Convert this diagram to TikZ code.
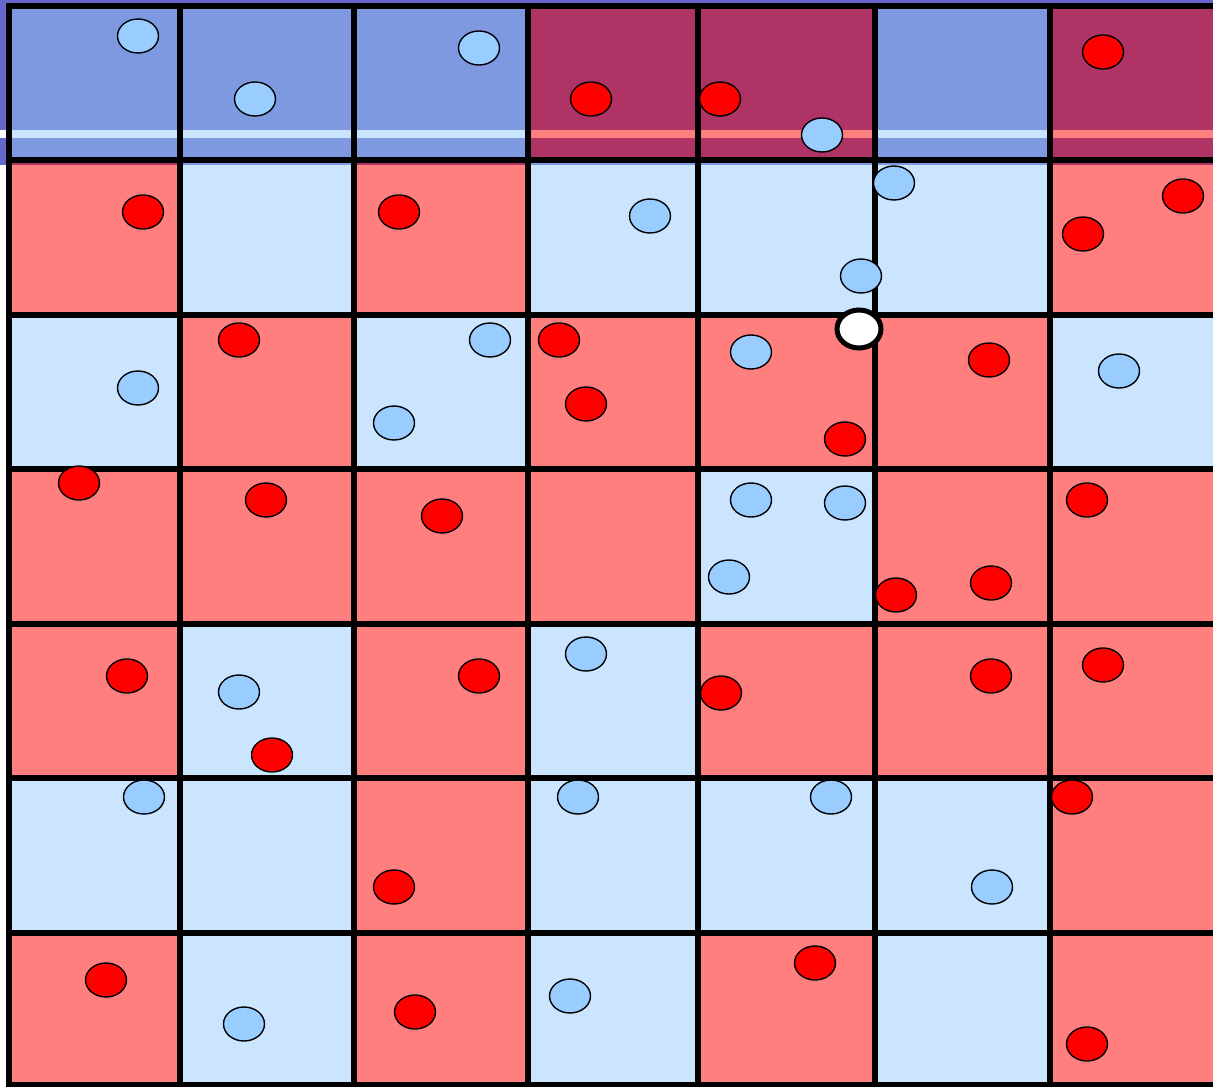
\documentclass[tikz,border=0pt]{standalone}
\usepackage{tikz}
\usetikzlibrary{shapes.geometric}
\definecolor{cellR}{HTML}{FF7F7F}
\definecolor{cellL}{HTML}{CCE5FF}
\definecolor{darkR}{HTML}{B03366}
\definecolor{darkL}{HTML}{7F99E1}
\definecolor{rim}{HTML}{6666CC}
\definecolor{dotblue}{HTML}{99CCFF}

\begin{document}
\begin{tikzpicture}[x=1pt,y=-1pt,
    gridline/.style={line width=5.6pt,line cap=rect},
    dot/.style={ellipse,draw,line width=1.4pt,minimum width=41pt,minimum height=34pt,inner sep=0pt},
    bluedot/.style={dot,fill=dotblue},
    reddot/.style={dot,fill=red},
    agent/.style={ellipse,draw,fill=white,line width=5pt,minimum width=44pt,minimum height=38pt,inner sep=0pt}]
\useasboundingbox (0,0) rectangle (1213,1087);
\clip (0,0) rectangle (1213,1087);
\def\colx{{9,180,354,528,698,875,1050,1224}}
\def\rowy{{6,160,315,469,624,778,933,1085}}
\fill[rim] (0,0) rectangle (1213,165);
\fill[white] (0,130) rectangle (9,138);
\foreach \r/\pat in {0/{L,L,L,R,R,L,R},1/{R,L,R,L,L,L,R},2/{L,R,L,R,R,R,L},
    3/{R,R,R,R,L,R,R},4/{R,L,R,L,R,R,R},5/{L,L,R,L,L,L,R},6/{R,L,R,L,R,L,R}} {
  \foreach \c [count=\i from 0] in \pat {
    \pgfmathsetmacro\xa{\colx[\i]}
    \pgfmathsetmacro\xb{\colx[\i+1]}
    \pgfmathsetmacro\ya{\rowy[\r]}
    \pgfmathsetmacro\yb{\rowy[\r+1]}
    \ifnum\r=0
      \fill[dark\c] (\xa,\ya) rectangle (\xb,\yb);
      \fill[cell\c] (\xa,130) rectangle (\xb,138);
    \else
      \fill[cell\c] (\xa,\ya) rectangle (\xb,\yb);
    \fi
    \ifnum\r=1 \fill[dark\c] (\xa,\ya) rectangle (\xb,165); \fi
  }
}
\foreach \i in {0,...,7} {
  \pgfmathsetmacro\xa{\colx[\i]}
  \draw[gridline] (\xa,6) -- (\xa,1085);
}
\foreach \j in {0,...,7} {
  \pgfmathsetmacro\ya{\rowy[\j]}
  \draw[gridline] (9,\ya) -- (1230,\ya);
}
\foreach \x/\y [count=\k] in {138/36,255/99,479/48,822/135,894/183,650/216,861/276,
    138/388,490/340,394/423,751/352,1119/371,751/500,845/503,729/577,586/654,
    239/692,144/797,578/797,831/797,992/887,244/1024,570/996}
  \node[bluedot] (blue\k) at (\x,\y) {};
\foreach \x/\y [count=\k] in {591/99,720/99,1103/52,143/212,399/212,1183/196,1083/234,
    239/340,559/340,586/404,989/360,845/439,79/483,266/500,442/516,1087/500,
    896/595,991/583,127/676,479/676,721/693,991/676,1103/665,272/755,1072/797,
    394/887,106/980,815/963,415/1012,1087/1044}
  \node[reddot] (red\k) at (\x,\y) {};
\node[agent] (self) at (859,329) {};
\end{tikzpicture}
\end{document}
